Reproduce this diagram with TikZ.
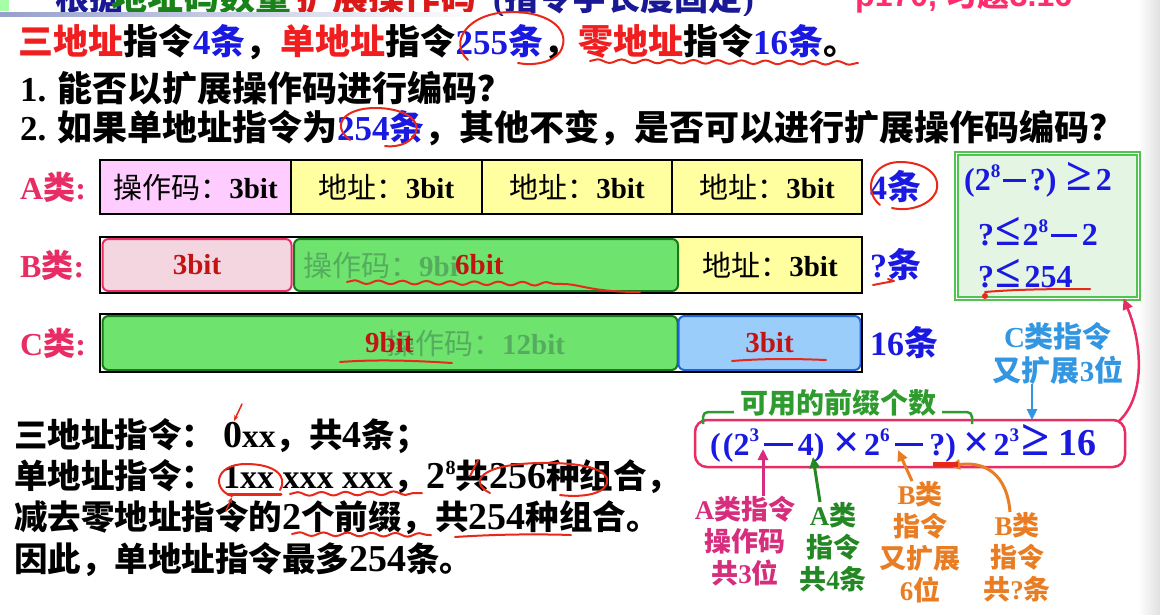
\documentclass[tikz,border=0pt]{standalone}
\usepackage{fontspec}
\usepackage{graphicx}
\setmainfont{Noto Sans CJK SC}
\newfontfamily\tnr{Liberation Serif}[UprightFont=* Bold, BoldFont=* Bold]
\newfontfamily\tsans{Liberation Sans}[UprightFont=* Bold, BoldFont=* Bold]
\usetikzlibrary{arrows.meta,decorations.pathmorphing,calc}
\newcommand\tm[1]{{\tnr #1}}
\newcommand\tb[1]{{\fontsize{38}{38}\selectfont\tnr #1}}
\newcommand\fsz[1]{\fontsize{#1}{#1}\selectfont\bfseries}
\newcommand\fsr[1]{\fontsize{#1}{#1}\selectfont}
\newcommand\fsl[2]{\fontsize{#1}{#2}\selectfont\bfseries}
\newcommand\spr[1]{\raisebox{0.42em}{\scalebox{0.6}{\tm{#1}}}}
\newcommand\mnn[1][0.9em]{\rule[0.28em]{#1}{0.09em}}
\newcommand\tms{\raisebox{-0.06em}{\scalebox{1.45}{\tm{×}}}}
\definecolor{hred}{RGB}{240,30,30}
\definecolor{hblue}{RGB}{25,25,225}
\definecolor{crim}{RGB}{232,45,100}
\definecolor{pinkA}{RGB}{255,204,255}
\definecolor{yelA}{RGB}{255,255,160}
\definecolor{pinkB}{RGB}{243,214,224}
\definecolor{grnF}{RGB}{110,228,110}
\definecolor{grnD}{RGB}{25,120,25}
\definecolor{fadeT}{RGB}{85,172,95}
\definecolor{dred}{RGB}{195,20,20}
\definecolor{bluF}{RGB}{155,205,250}
\definecolor{bluD}{RGB}{30,100,220}
\definecolor{boxF}{RGB}{228,245,228}
\definecolor{boxD}{RGB}{80,195,80}
\definecolor{lblue}{RGB}{50,150,225}
\definecolor{brgrn}{RGB}{45,155,45}
\definecolor{mag}{RGB}{215,45,125}
\definecolor{dgrn}{RGB}{35,135,35}
\definecolor{orng}{RGB}{232,125,35}
\definecolor{pen}{RGB}{232,40,25}
\definecolor{tnavy}{RGB}{25,25,150}
\definecolor{tgreen}{RGB}{25,130,25}
\definecolor{tred}{RGB}{220,25,25}
\definecolor{tpink}{RGB}{255,45,110}
\begin{document}
\begin{tikzpicture}[x=1pt,y=-1pt,
  txt/.style={inner sep=0pt, anchor=west},
  cellA/.style={draw=black, line width=2.2pt, minimum height=54pt, inner sep=0pt, font=\fsr{29}},
  outerbox/.style={draw=black, line width=2.2pt, minimum width=762pt, inner sep=0pt},
  rbox/.style={rounded corners=6pt, line width=2pt, inner sep=0pt, font=\fsr{29}, text=dred},
  lab/.style={inner sep=0pt, align=center, font=\fsl{27}{32}},
  arr/.style={line width=3pt, -{Triangle[length=11pt,width=10pt]}},
  penline/.style={draw=pen, line width=2pt, line cap=round, line join=round},
  wavy/.style={penline, decorate, decoration={snake, amplitude=1.8pt, segment length=24pt}}
]
\fill[white] (0,0) rectangle (1160,614);
\useasboundingbox (0,0) rectangle (1160,614);
\shade[left color=white, right color=black!12] (1138,0) rectangle (1160,614);

% ---------- clipped title ----------
\begin{scope}
\clip (0,0) rectangle (1160,15.5);
\fill[green!35] (0,0) rectangle (9,11);
\node[txt, anchor=base west, font=\fsz{34}, text=tnavy] (ti1) at (55,10) {根据};
\node[txt, anchor=base west, font=\fsz{36}, text=tgreen] (ti2) at (111,10) {地址码数量};
\node[txt, anchor=base west, font=\fsz{36}, text=tred] (ti3) at (296,10) {扩展操作码};
\node[txt, anchor=base west, font=\fsz{34}, text=tnavy] (ti4) at (493,10) {{\tnr(}指令字长度固定{\tnr)}};
\node[txt, anchor=base west, font=\fsz{32}, text=tpink] (ti5) at (855,6) {{\tsans p170, }习题{\tsans 3.16}};
\draw[tgreen, line width=2pt] ($(ti2.base west)+(0,3)$) -- ($(ti2.base east)+(0,3)$);
\end{scope}
\shade[left color={rgb,255:red,150;green,160;blue,205}, right color=white] (0,12.5) rectangle (480,16.5);

% ---------- question text ----------
\node[txt, font=\fsz{35}] (q1) at (18,42) {\color{hred}三地址\color{black}指令\color{hblue}\tm{4}条\color{black}，\color{hred}单地址\color{black}指令\color{hblue}\tm{255}条\color{black}，\color{hred}零地址\color{black}指令\color{hblue}\tm{16}条\color{black}。};
\node[txt, font=\fsz{35}] (q2) at (20,88) {\tm{1.} 能否以扩展操作码进行编码？};
\node[txt, font=\fsz{35}] (q3) at (20,128) {\tm{2.} 如果单地址指令为\color{hblue}\tm{254}条\color{black}，其他不变，是否可以进行扩展操作码编码？};

% ---------- row labels ----------
\node[txt, font=\fsz{32}, text=crim] (ra) at (20,187) {\tm{A}类\tm{:}};
\node[txt, font=\fsz{32}, text=crim] (rb) at (20,265) {\tm{B}类\tm{:}};
\node[txt, font=\fsz{32}, text=crim] (rc) at (20,343) {\tm{C}类\tm{:}};

% ---------- row A ----------
\node[cellA, fill=pinkA, minimum width=191pt] (a0) at (195.5,187) {操作码：\tm{3bit}};
\node[cellA, fill=yelA, minimum width=191pt] (a1) at (386.5,187) {地址：\tm{3bit}};
\node[cellA, fill=yelA, minimum width=190pt] (a2) at (577,187) {地址：\tm{3bit}};
\node[cellA, fill=yelA, minimum width=190pt] (a3) at (767,187) {地址：\tm{3bit}};

% ---------- row B ----------
\node[fill=yelA, minimum width=184pt, minimum height=54pt, inner sep=0pt, font=\fsr{29}] (b2) at (770,265) {地址：\tm{3bit}};
\node[rbox, draw=crim, fill=pinkB, minimum width=189pt, minimum height=52pt] (b0) at (197,265) {\tm{3bit}};
\node[rbox, draw=grnD, fill=grnF, minimum width=384pt, minimum height=52pt] (b1) at (486,265) {};
\node[outerbox, minimum height=56pt] (bout) at (481,265) {};
\node[txt, font=\fsr{29}, text=fadeT] (bf) at (303,265) {操作码：\tm{9bi}};
\node[txt, font=\fsr{29}, text=dred] (b6) at (455,265) {\tm{6bit}};

% ---------- row C ----------
\node[rbox, draw=grnD, fill=grnF, minimum width=575pt, minimum height=54pt] (c0) at (390,343) {};
\node[rbox, draw=bluD, fill=bluF, minimum width=182pt, minimum height=54pt] (c1) at (769.5,343) {\tm{3bit}};
\node[outerbox, minimum height=58pt] (cout) at (481,343) {};
\node[txt, font=\fsr{29}, text=fadeT] (cf) at (386,343) {操作码：\tm{12bit}};
\node[txt, font=\fsr{29}, text=dred] (c9) at (365,343) {\tm{9bit}};

% ---------- counts ----------
\node[txt, font=\fsz{34}, text=hblue] (na) at (870,187) {\tm{4}条};
\node[txt, font=\fsz{34}, text=hblue] (nb) at (870,265) {\tm{?}条};
\node[txt, font=\fsz{34}, text=hblue] (nc) at (870,343) {\tm{16}条};

% ---------- right box ----------
\node[draw=boxD, double=white, double distance=1.2pt, line width=2pt, fill=boxF,
      minimum width=182pt, minimum height=145pt, inner sep=0pt] (eq) at (1047.5,226) {};
\node[txt, font=\fsz{32}, text=hblue] (e1) at (964,180) {\tm{(2}\spr{8}\hspace{3pt}\mnn[0.7em]\hspace{4pt}\tm{?)}\hspace{10pt}\scalebox{1.45}{\tm{≥}}\hspace{4pt}\tm{2}};
\node[txt, font=\fsz{32}, text=hblue] (e2) at (978,232) {\tm{?}\hspace{1pt}\scalebox{1.45}{\tm{≤}}\hspace{2pt}\tm{2}\spr{8}\hspace{3pt}\mnn[0.8em]\hspace{5pt}\tm{2}};
\node[txt, font=\fsz{32}, text=hblue] (e3) at (978,274) {\tm{?}\hspace{1pt}\scalebox{1.45}{\tm{≤}}\hspace{4pt}\tm{254}};

\node[inner sep=0pt, align=center, font=\fsl{29}{34}, text=lblue] (cl) at (1058,353) {\tm{C}类指令\\又扩展\tm{3}位};

% ---------- formula ----------
\node[draw=crim, line width=2.5pt, rounded corners=12pt, fill=white, minimum width=430pt, minimum height=47pt, inner sep=0pt] (fb) at (910,443.5) {};
\node[txt, font=\fsz{32}, text=hblue] (fm) at (710,443) {\tm{(}\hspace{2pt}\tm{(2}\spr{3}\hspace{5pt}\mnn\hspace{5pt}\tm{4)}\hspace{9pt}\tms\hspace{4pt}\tm{2}\spr{6}\hspace{5pt}\mnn\hspace{6pt}\tm{?)}\hspace{7pt}\tms\hspace{4pt}\tm{2}\spr{3}\hspace{2pt}\scalebox{1.6}{\tm{≥}}\hspace{9pt}{\fsz{38}\tm{16}}};

\node[inner sep=0pt, font=\fsz{28}, text=brgrn] (pre) at (838,403) {可用的前缀个数};
\draw[brgrn, line width=2.5pt, rounded corners=5pt] (703,424) -- (703,412) -- ($(pre.west)+(-6,9)$);
\draw[brgrn, line width=2.5pt, rounded corners=5pt] ($(pre.east)+(6,9)$) -- (972,412) -- (972,424);

% ---------- labels below ----------
\node[lab, text=mag] (la) at (745,541) {\tm{A}类指令\\操作码\\共\tm{3}位};
\node[lab, text=dgrn] (lb) at (833,547) {\tm{A}类\\指令\\共\tm{4}条};
\node[lab, text=orng] (lc) at (920,542) {\tm{B}类\\指令\\又扩展\\\tm{6}位};
\node[lab, text=orng] (ld) at (1017,557) {\tm{B}类\\指令\\共\tm{?}条};

\coordinate (ta) at (763,449);
\coordinate (tb) at (813,457);
\coordinate (tc) at (898,450);
\coordinate (td) at (949,466);
\coordinate (tf) at (1032,420);
\draw[arr, mag] (la.north -| ta) -- (ta);
\draw[arr, dgrn] ($(lb.north)+(-13,0)$) -- (tb);
\draw[arr, orng] ($(lc.north)+(-8,0)$) -- (tc);
\draw[arr, orng] ($(ld.north)+(-7,0)$) .. controls ($(ld.north)+(-10,-38)$) and (985,461) .. (td);
\draw[arr, lblue, line width=2.5pt] (cl.south -| tf) -- (tf);
\draw[arr, crim, line width=2.5pt] ($(fb.north east)+(-8,3)$) .. controls (1145,398) and (1143,345) .. ($(eq.south east)+(-16,-1)$);

% ---------- bottom left text ----------
\node[txt, font=\fsz{33.5}] (s1) at (14,436) {三地址指令：\hspace{8pt}\tb{0}\tm{xx}，共\tb{4}条；};
\node[txt, font=\fsz{33.5}] (s2) at (14,477) {单地址指令：\hspace{8pt}{\fontsize{34}{34}\selectfont\tm{1xx xxx xxx}}，\tb{2}\spr{8}共\tb{256}种组合，};
\node[txt, font=\fsz{33.5}] (s3) at (14,518) {减去零地址指令的\tb{2}个前缀，共\tb{254}种组合。};
\node[txt, font=\fsz{33.5}] (s4) at (14,560) {因此，单地址指令最多\tb{254}条。};

% ---------- hand-drawn pen marks ----------
\draw[penline] (468,60) .. controls (448,42) and (468,12) .. (512,12) .. controls (552,12) and (572,32) .. (560,52) .. controls (552,63) and (532,66) .. (518,63);
\draw[wavy] (590,61) -- (858,63);
\draw[penline] (350,140) .. controls (330,125) and (345,108) .. (375,108) .. controls (410,108) and (425,125) .. (412,138) .. controls (405,146) and (392,147) .. (385,146);
\draw[penline] (880,205) .. controls (862,190) and (872,162) .. (900,162) .. controls (925,162) and (942,175) .. (936,192) .. controls (930,205) and (910,212) .. (892,208);
\draw[penline] (873,285) -- (894,281) -- (888,279);
\draw[wavy] (347,282) -- (563,284);
\draw[penline] (563,284) .. controls (580,284) and (590,292) .. (640,292);
\draw[penline] (340,362) .. controls (380,359) and (420,361) .. (452,363);
\draw[penline] (732,361) .. controls (770,358) and (800,359) .. (826,360);
\draw[penline] (985,292) .. controls (1020,289) and (1060,289) .. (1090,289);
\fill[pen] (985,296) circle (3pt);
\fill[pen] (933,462) rectangle (958,467);
% bottom text marks
\draw[penline, line width=1.5pt, -{Stealth[length=6pt]}] (242,404) -- (234,421);
\draw[penline] (232,496) .. controls (212,490) and (214,464) .. (246,464) .. controls (275,464) and (288,476) .. (280,490);
\draw[penline, line width=3pt] (228,494) -- (281,494);
\draw[penline, line width=1.5pt, -{Stealth[length=6pt]}] (226,511) -- (232,497);
\draw[wavy] (290,494) -- (422,493);
\draw[penline] (478,460) -- (470,476);
\draw[penline] (490,493) .. controls (468,482) and (480,464) .. (540,463) .. controls (600,462) and (615,476) .. (604,488) .. controls (596,496) and (575,497) .. (560,495);
\draw[wavy] (292,534) -- (431,535);
\draw[penline] (455,537) .. controls (500,534) and (540,534) .. (571,535);
\end{tikzpicture}
\end{document}
